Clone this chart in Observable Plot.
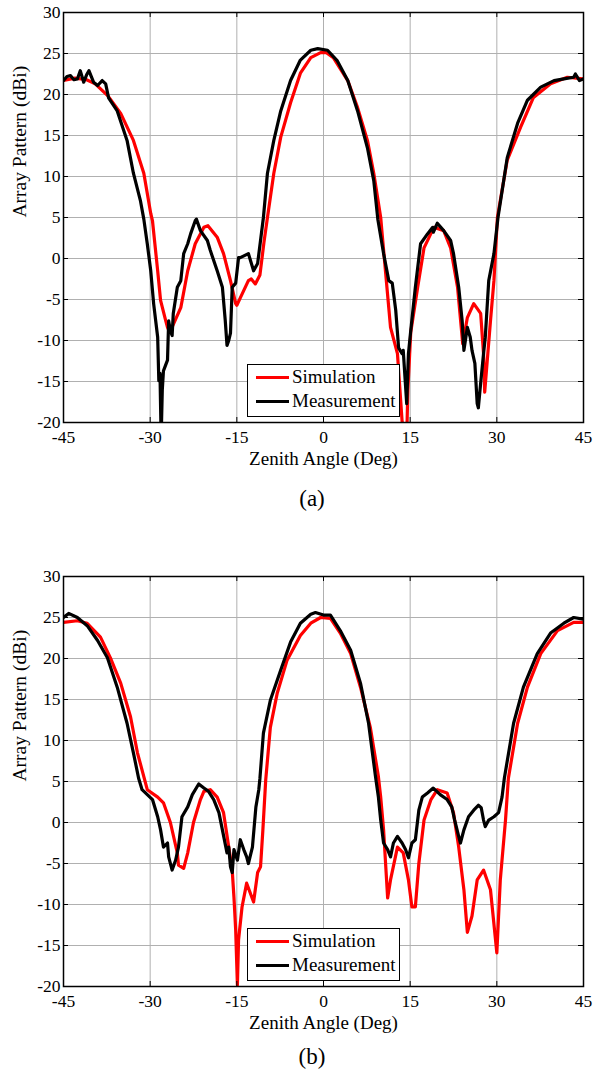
<!DOCTYPE html>
<html><head><meta charset="utf-8">
<script src="https://cdn.jsdelivr.net/npm/d3@7"></script>
<script src="https://cdn.jsdelivr.net/npm/@observablehq/plot@0.6"></script>
<style>
body{margin:0;background:#fff;font-family:"Liberation Serif",serif;color:#000;}
#wrap{position:relative;width:594px;height:1072px;overflow:hidden;}
.panel{position:absolute;left:0;width:594px;}
.legend{position:absolute;left:247px;width:153px;height:53px;border:1.5px solid #000;background:#fff;box-sizing:border-box;}
.legend .row{position:absolute;left:0;height:24px;width:100%;}
.legend .sw{position:absolute;left:8px;width:33px;height:3px;}
.legend .lab{position:absolute;left:44px;font-size:19px;line-height:19px;white-space:nowrap;}
.cap{position:absolute;font-size:23px;line-height:23px;transform:translateX(-50%);white-space:nowrap;}
</style></head>
<body><div id="wrap"></div>
<script>
// ---------- data ----------
const xTicks = [-45, -30, -15, 0, 15, 30, 45];
const yTicks = [-20, -15, -10, -5, 0, 5, 10, 15, 20, 25, 30];
const xLabel = "Zenith Angle (Deg)";
const yLabel = "Array Pattern (dBi)";
const seriesNames = ["Simulation", "Measurement"];
const seriesColors = ["#ff0000", "#000000"];
const panelCaptions = ["(a)", "(b)"];

// Panel (a) Simulation
const aSimAngle = [-45,-43,-41,-39.5,-37.4,-35.1,-32.9,-31.1,-29.9,-29.6,-28.7,-28.2,-27.3,-27.0,-26.6,-24.7,-23.5,-22.2,-20.7,-20.0,-18.4,-17.3,-16.1,-15.2,-15.0,-14.4,-13.0,-12.5,-11.8,-11.0,-10.3,-9.7,-8.6,-7.4,-5.7,-4.0,-2.2,-0.5,0.5,1.7,4.2,5.9,7.6,8.7,9.9,10.2,11.6,12.8,13.6,14.0,14.4,14.6,15.1,16.3,17.4,19.1,20.8,22.0,23.2,24.1,24.9,26.0,27.2,27.7,27.9,28.9,29.5,30.1,31.8,34.1,36.3,39.3,42.2,45];
const aSimDb    = [21.7,22.0,21.8,21.3,19.9,17.7,14.4,10.4,5.5,4.6,-1.5,-5.1,-7.6,-8.4,-9.0,-6.0,-1.5,1.8,3.8,4.0,2.6,0.6,-2.7,-5.5,-5.7,-4.8,-2.7,-2.5,-3.1,-2.0,2.0,5.0,10.4,14.8,19.0,22.6,24.5,25.1,25.1,24.5,21.7,18.4,14.4,10.4,5.0,2.6,-8.4,-11.6,-19.8,-22,-22,-16,-9.0,-3.5,1.3,3.8,3.4,1.3,-3.5,-10.4,-7.2,-5.5,-6.7,-11.6,-16.3,-7.6,-2.7,5.0,12.0,16.0,19.6,21.3,22.1,21.9];
// Panel (a) Measurement
const aMeasAngle = [-45,-44.4,-43.8,-43.2,-42.6,-42.1,-41.5,-41.0,-40.6,-40.2,-39.8,-39.1,-38.3,-37.7,-37.2,-35.7,-34.0,-32.9,-31.7,-31.1,-30.5,-29.9,-29.4,-28.7,-28.5,-28.3,-28.1,-27.9,-27.7,-27.0,-26.8,-26.5,-26.2,-26.0,-25.3,-24.7,-24.2,-23.5,-23.0,-22.2,-22.0,-21.3,-20.1,-19.6,-18.4,-17.5,-17.0,-16.7,-16.4,-16.1,-15.8,-15.2,-14.7,-14.4,-13.0,-12.1,-11.4,-10.9,-10.4,-9.7,-8.6,-7.4,-5.7,-4.0,-2.2,-1.0,0.7,2.4,4.2,5.9,7.6,8.7,9.4,10.4,11.3,11.9,12.5,13.0,13.6,13.8,14.4,14.7,15.1,15.9,16.8,18.0,18.9,19.0,19.7,20.8,22.0,22.5,23.4,24.0,24.3,24.9,25.4,25.7,26.2,26.6,26.8,27.2,27.7,28.0,28.6,29.5,30.2,31.8,33.6,35.3,37.6,39.9,41.6,43.3,43.6,44.3,45];
const aMeasDb    = [21.7,22.2,22.3,21.8,21.9,22.9,21.5,22.4,22.9,22.2,21.5,21.1,21.7,21.3,19.6,18.0,14.4,10.4,7.1,4.8,1.8,-1.5,-5.5,-9.6,-14.9,-14.0,-22,-16,-13.7,-12.4,-7.6,-8.8,-9.4,-6.7,-3.5,-2.7,0.6,1.8,3.0,4.6,4.8,3.4,2.2,1.0,-1.5,-3.5,-7.6,-10.6,-10.0,-9.1,-3.5,-3.0,0.1,0.1,0.6,-1.5,-0.6,2.2,5.0,10.4,14.4,18.0,21.7,24.2,25.4,25.6,25.4,24.1,21.7,18.0,13.5,9.5,4.8,0.6,-2.7,-3.0,-6.3,-10.9,-11.6,-11.2,-17.7,-11.6,-8.8,-3.5,1.8,3.0,3.8,3.2,4.3,3.4,2.2,0.6,-3.5,-7.6,-11.2,-8.4,-9.6,-11.2,-12.8,-17.7,-18.2,-15.2,-11.6,-9.6,-2.7,0.6,5.0,12.3,16.5,19.3,20.9,21.7,21.9,22.1,22.5,21.7,21.9];

// Panel (b) Simulation
const bSimAngle = [-45,-42.6,-40.9,-38.6,-36.9,-35.1,-33.4,-32.2,-31.1,-30.5,-28.7,-27.7,-26.5,-25.3,-25.1,-24.2,-23.5,-22.5,-21.3,-20.7,-19.6,-18.4,-17.3,-16.4,-15.8,-15.5,-15.2,-14.9,-14.7,-14.1,-13.3,-12.1,-11.4,-10.9,-10.5,-10.0,-9.2,-8.0,-6.3,-4.0,-2.2,-0.5,1.2,2.9,4.7,6.4,8.1,9.5,9.9,10.4,11.1,11.6,12.8,13.8,14.7,15.3,15.9,16.5,17.4,18.6,19.7,21.4,22.5,23.4,24.3,24.9,25.7,26.6,27.7,28.9,30.0,30.6,31.5,32.0,33.6,35.3,37.6,40.5,43.3,45];
const bSimDb    = [24.4,24.6,24.3,22.6,20.1,17.0,12.9,8.5,5.6,4.0,3.1,2.4,0.0,-3.7,-5.2,-5.6,-3.7,0.0,2.8,3.8,4.0,3.1,1.2,-3.0,-5.8,-9.1,-13.1,-19.8,-14.3,-10.3,-7.4,-9.7,-6.1,-5.4,-1.0,5.2,11.6,15.8,19.8,22.8,24.3,25.0,24.9,23.1,20.6,16.5,11.6,5.6,3.1,-0.9,-9.2,-7.0,-3.0,-3.7,-7.0,-10.3,-10.3,-5.0,0.3,2.8,4.0,3.6,1.2,-3.0,-8.2,-13.4,-11.4,-7.0,-5.8,-8.2,-15.9,-7.0,0.3,5.4,12.1,16.5,20.6,23.4,24.4,24.4];
// Panel (b) Measurement
const bMeasAngle = [-45,-44.1,-42.6,-40.9,-39.1,-37.4,-35.7,-34.0,-32.9,-32.0,-31.4,-30.5,-29.6,-28.7,-28.2,-27.7,-27.0,-26.8,-26.2,-25.6,-25.1,-24.5,-23.5,-22.7,-21.6,-20.7,-19.9,-19.0,-18.1,-17.5,-16.7,-16.4,-16.1,-15.8,-15.5,-14.9,-14.4,-13.8,-13.3,-13.0,-12.3,-11.7,-11.2,-11.0,-10.4,-9.2,-7.4,-5.7,-4.0,-2.2,-1.4,0,1.2,2.9,4.7,6.4,7.8,9.0,9.5,9.9,10.4,11.1,11.6,12.1,12.8,13.6,14.2,14.7,15.3,15.9,16.5,17.1,18.0,19.0,20.2,21.4,22.2,22.7,23.4,23.7,24.3,25.1,26.0,26.8,27.3,27.7,28.0,28.6,29.5,30.3,30.9,31.3,32.9,34.6,37.0,39.3,41.6,43.3,45];
const bMeasDb    = [25.0,25.5,25.0,24.0,22.2,20.1,16.5,12.1,8.5,5.4,4.0,3.4,2.8,0.7,-0.9,-3.0,-2.5,-4.2,-5.8,-4.6,-3.0,0.7,1.9,3.4,4.7,4.2,3.8,2.8,1.2,-0.9,-3.7,-3.0,-5.4,-6.1,-3.3,-4.6,-2.1,-3.3,-4.2,-5.0,-3.0,1.9,4.0,5.4,10.9,14.9,18.6,22.0,24.3,25.4,25.6,25.3,25.3,23.4,21.0,17.0,12.1,5.6,3.1,0.3,-2.5,-3.3,-4.2,-2.5,-1.7,-2.5,-3.3,-4.3,-2.5,-2.1,1.5,3.1,3.6,4.2,3.4,2.8,1.9,0.3,-1.7,-2.5,-0.9,0.7,1.5,2.1,1.8,0.3,-0.5,0.3,0.7,1.2,3.1,5.4,12.1,16.5,20.6,23.1,24.3,25.0,24.8];

const panels = [
  {top: 0,   capTop: 487,  simA: aSimAngle, simD: aSimDb, measA: aMeasAngle, measD: aMeasDb},
  {top: 564, capTop: 1045, simA: bSimAngle, simD: bSimDb, measA: bMeasAngle, measD: bMeasDb}
];

// ---------- drawing ----------
const W = 594, H = 472, mT = 12, mB = 50, mL = 63, mR = 11;
const plotH = H - mT - mB, plotW = W - mL - mR;
const font = "Liberation Serif";
const wrap = document.getElementById("wrap");

panels.forEach((p, idx) => {
  const sim = p.simA.map((x, i) => ({x, y: p.simD[i]}));
  const meas = p.measA.map((x, i) => ({x, y: p.measD[i]}));
  const chart = Plot.plot({
    width: W, height: H,
    marginTop: mT, marginBottom: mB, marginLeft: mL, marginRight: mR,
    style: {fontFamily: font, fontSize: "17.5px", color: "#000", background: "#fff", overflow: "visible"},
    x: {domain: [-45, 45], label: null},
    y: {domain: [-20, 30], label: null},
    marks: [
      Plot.gridX(xTicks, {stroke: "#b0b0b0", strokeOpacity: 1, strokeWidth: 1}),
      Plot.gridY(yTicks, {stroke: "#b0b0b0", strokeOpacity: 1, strokeWidth: 1}),
      Plot.line(sim, {x: "x", y: "y", stroke: seriesColors[0], strokeWidth: 3.2, clip: true}),
      Plot.line(meas, {x: "x", y: "y", stroke: seriesColors[1], strokeWidth: 3.2, clip: true}),
      Plot.ruleX(xTicks, {x: d => d, insetTop: plotH - 5, stroke: "#000"}),
      Plot.ruleX(xTicks, {x: d => d, insetBottom: plotH - 5, stroke: "#000"}),
      Plot.ruleY(yTicks, {y: d => d, insetRight: plotW - 5, stroke: "#000"}),
      Plot.ruleY(yTicks, {y: d => d, insetLeft: plotW - 5, stroke: "#000"}),
      Plot.frame({stroke: "#000", strokeWidth: 1.5}),
      Plot.axisX(xTicks, {tickSize: 0, tickPadding: 8, tickFormat: d => String(d), fontSize: 17.5, fontFamily: font}),
      Plot.axisY(yTicks, {tickSize: 0, tickPadding: 3, tickFormat: d => String(d), fontSize: 17.5, fontFamily: font}),
      Plot.text([xLabel], {text: d => d, frameAnchor: "bottom", dy: 36, fontSize: 19, fontFamily: font, lineAnchor: "middle"}),
      Plot.text([yLabel], {text: d => d, frameAnchor: "left", dx: -44, rotate: -90, fontSize: 19.5, fontFamily: font, lineAnchor: "middle"})
    ]
  });
  const holder = document.createElement("div");
  holder.className = "panel";
  holder.style.top = p.top + "px";
  holder.appendChild(chart);
  wrap.appendChild(holder);

  // legend (inside plot, lower middle)
  const lg = document.createElement("div");
  lg.className = "legend";
  lg.style.top = (p.top + 364) + "px";
  seriesNames.forEach((name, k) => {
    const row = document.createElement("div");
    row.className = "row";
    row.style.top = (k * 24) + "px";
    const sw = document.createElement("div");
    sw.className = "sw";
    sw.style.top = "11px";
    sw.style.background = seriesColors[k];
    const lab = document.createElement("div");
    lab.className = "lab";
    lab.style.top = "2px";
    lab.textContent = name;
    row.appendChild(sw); row.appendChild(lab);
    lg.appendChild(row);
  });
  wrap.appendChild(lg);

  const cap = document.createElement("div");
  cap.className = "cap";
  cap.style.left = "312px";
  cap.style.top = p.capTop + "px";
  cap.textContent = panelCaptions[idx];
  wrap.appendChild(cap);
});
</script>
</body></html>
